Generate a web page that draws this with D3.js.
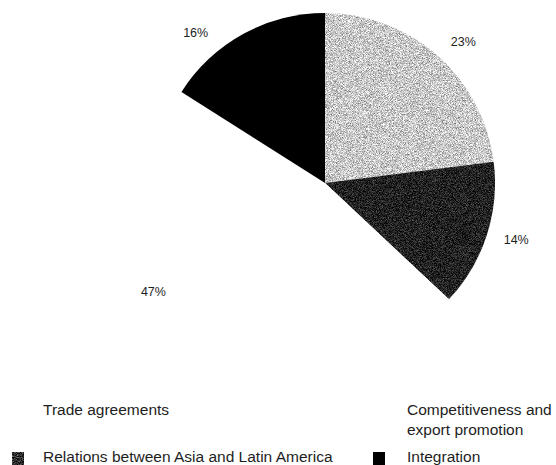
<!DOCTYPE html>
<html>
<head>
<meta charset="utf-8">
<script src="https://cdn.jsdelivr.net/npm/d3@7"></script>
<style>
  html, body { margin: 0; padding: 0; background: #fff; }
  svg { display: block; }
  text { font-family: "Liberation Sans", Arial, sans-serif; fill: #1e1e1e; }
</style>
</head>
<body>
<svg id="chart" width="556" height="465"></svg>
<script>
// Slices in clockwise order from twelve o'clock
const categories = ["Competitiveness and export promotion", "Relations between Asia and Latin America", "Trade agreements", "Integration"];
const values = [23, 14, 47, 16];
const labels = ["23%", "14%", "47%", "16%"];

// Legend, two columns, row by row
const legendItems = ["Trade agreements", "Competitiveness and export promotion", "Relations between Asia and Latin America", "Integration"];

const svg = d3.select("#chart");
const W = 556, H = 465;
const cx = 325, cy = 183, R = 170;

// Stippled fills: grayscale noise remapped to a tone range, clipped to the shape
const defs = svg.append("defs");
function grain(id, slope, intercept, freq) {
  const f = defs.append("filter").attr("id", id)
    .attr("filterUnits", "userSpaceOnUse")
    .attr("x", -W).attr("y", -H).attr("width", 2 * W).attr("height", 2 * H)
    .attr("color-interpolation-filters", "sRGB");
  f.append("feTurbulence").attr("type", "fractalNoise")
    .attr("baseFrequency", freq).attr("numOctaves", 2).attr("seed", 7).attr("result", "noise");
  f.append("feColorMatrix").attr("in", "noise").attr("type", "matrix")
    .attr("values", "1 0 0 0 0  1 0 0 0 0  1 0 0 0 0  0 0 0 0 1")
    .attr("result", "gray");
  const ct = f.append("feComponentTransfer").attr("in", "gray").attr("result", "tone");
  ["feFuncR", "feFuncG", "feFuncB"].forEach(fn =>
    ct.append(fn).attr("type", "linear").attr("slope", slope).attr("intercept", intercept));
  f.append("feComposite").attr("in", "tone").attr("in2", "SourceGraphic").attr("operator", "in");
}
grain("grainLight", 1.1, 0.24, 1.3);
grain("grainDark", 0.75, -0.24, 1.3);
grain("grainSwatch", 1.2, -0.42, 0.8);

const fills = {
  "Competitiveness and export promotion": "#c4c4c4",
  "Relations between Asia and Latin America": "#222222",
  "Trade agreements": "#ffffff",
  "Integration": "#000000"
};
const filters = {
  "Competitiveness and export promotion": "url(#grainLight)",
  "Relations between Asia and Latin America": "url(#grainDark)",
  "Trade agreements": null,
  "Integration": null
};

const color = d3.scaleOrdinal().domain(categories).range(categories.map(c => fills[c]));

const pie = d3.pie().sort(null).value(d => d.value);
const data = pie(categories.map((c, i) => ({ cat: c, value: values[i], label: labels[i] })));

const arc = d3.arc().innerRadius(0).outerRadius(R);
const labelArc = d3.arc().innerRadius(200).outerRadius(200);

const g = svg.append("g").attr("transform", `translate(${cx},${cy})`);

g.selectAll("path.slice").data(data).enter().append("path")
  .attr("class", "slice")
  .attr("d", arc)
  .attr("fill", d => color(d.data.cat))
  .attr("filter", d => filters[d.data.cat]);

// Label placement nudges (px) relative to the outer centroid
const nudges = [[6, 9], [1, -5], [-49, -49], [-33, 25]];
g.selectAll("text.pct").data(data).enter().append("text")
  .attr("class", "pct")
  .attr("x", (d, i) => labelArc.centroid(d)[0] + nudges[i][0])
  .attr("y", (d, i) => labelArc.centroid(d)[1] + nudges[i][1] + 4)
  .attr("text-anchor", "middle")
  .attr("font-size", 12.5)
  .text(d => d.data.label);

// Legend (the first row is printed without swatches)
const legend = svg.append("g");
const colX = [12, 373], rowY = [415, 462], textX = [43, 407];
legendItems.forEach((name, i) => {
  const col = i % 2, row = Math.floor(i / 2);
  const x = colX[col], y = rowY[row];
  const item = legend.append("g");
  if (row > 0) {
    const sw = item.append("rect")
      .attr("x", x).attr("y", y - 10)
      .attr("width", 12).attr("height", 13)
      .attr("fill", color(name));
    if (filters[name]) sw.attr("filter", "url(#grainSwatch)");
  }
  const words = name === "Competitiveness and export promotion"
    ? ["Competitiveness and", "export promotion"] : [name];
  const t = item.append("text").attr("y", y).attr("font-size", 15.5);
  words.forEach((w, k) => {
    t.append("tspan").attr("x", textX[col]).attr("dy", k === 0 ? 0 : 19.5).text(w);
  });
});
</script>
</body>
</html>
